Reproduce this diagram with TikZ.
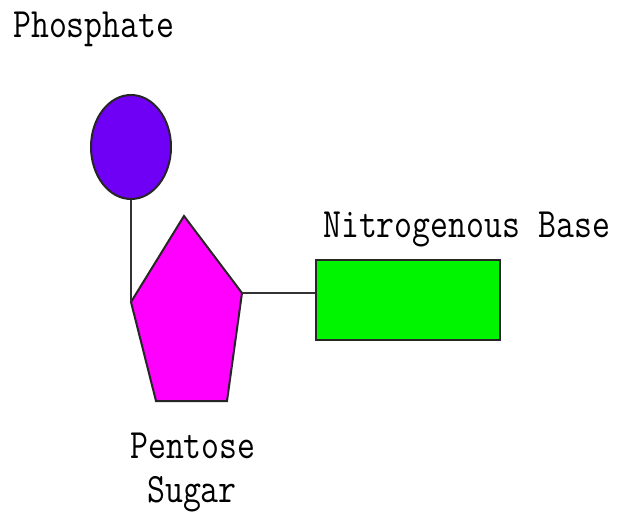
\documentclass[tikz,border=0pt]{standalone}
\usepackage{fontspec}
\usetikzlibrary{shapes.geometric}
\definecolor{phos}{RGB}{112,0,245}
\definecolor{sugar}{RGB}{255,0,255}
\definecolor{base}{RGB}{0,245,0}
\tikzset{
  lbl/.style={anchor=base west,inner sep=0pt,font=\fontsize{34.8}{35}\selectfont\ttfamily},
  outl/.style={draw=black!85,line width=2pt},
  conn/.style={draw=black!80,line width=1.6pt}
}
\newcommand{\stretchtxt}[1]{\scalebox{1}[1.2]{#1}}
\begin{document}
\begin{tikzpicture}[x=1pt,y=-1pt]
\useasboundingbox (0,0) rectangle (619,519);
\fill[white] (0,0) rectangle (619,519);
% phosphate
\node[ellipse,outl,fill=phos,minimum width=80,minimum height=104,inner sep=0pt] (p) at (131,147) {};
% pentagon vertices
\coordinate (s1) at (184,216);
\coordinate (s2) at (242,293);
\coordinate (s3) at (227,401);
\coordinate (s4) at (156,401);
\coordinate (s5) at (131,302);
\filldraw[outl,fill=sugar,line join=miter] (s1) -- (s2) -- (s3) -- (s4) -- (s5) -- cycle;
% base
\node[rectangle,outl,fill=base,minimum width=184,minimum height=80,inner sep=0pt] (b) at (408,299.5) {};
% connectors
\draw[conn] (p.south) -- (p.south |- s5);
\draw[conn] (s2) -- (b.west |- s2);
% labels
\node[lbl] (tp) at (13,38) {\stretchtxt{Phosphate}};
\node[lbl] (tb) at (323,237) {\stretchtxt{Nitrogenous Base}};
\node[lbl] (ts1) at (130,458) {\stretchtxt{Pentose}};
\node[lbl] (ts2) at (147,502) {\stretchtxt{Sugar}};
\end{tikzpicture}
\end{document}
